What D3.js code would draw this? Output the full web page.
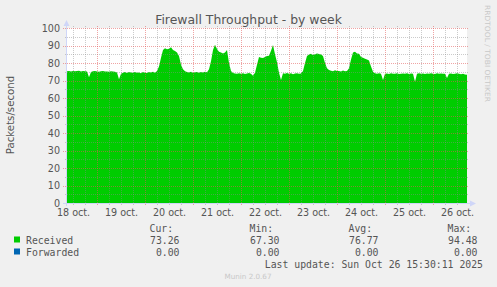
<!DOCTYPE html>
<html><head><meta charset="utf-8">
<script src="https://cdn.jsdelivr.net/npm/d3@7"></script>
<style>
body{margin:0;background:#f0f0f0;overflow:hidden;}
svg{display:block;}
</style></head><body>
<svg id="c" width="497" height="287"></svg>
<script>
// ---------- data ----------
const chartTitle = "Firewall Throughput - by week";
const yAxisTitle = "Packets/second";
const watermark = "RRDTOOL / TOBI OETIKER";
const footer = "Munin 2.0.67";
const lastUpdate = "Last update: Sun Oct 26 15:30:11 2025";

const startTime = Date.UTC(2025, 9, 18, 9, 0);   // left edge of plot
const endTime   = Date.UTC(2025, 9, 26, 17, 0);  // right edge of plot
const sampleHours = 1;                            // one value per hour

// Received packets/second, hourly from Oct 18 09:00
const received = [
  75.3,75.4,75.2,75.5,75.3,75.4,75.6,75.2,75.4,75.3,75.1,71.8,
  74.8,75.3,75.4,75.2,75.0,75.3,75.4,75.1,75.2,75.0,75.3,75.1,
  75.0,74.6,70.7,73.8,74.5,74.8,74.3,74.9,74.6,74.4,74.8,74.5,
  74.6,74.2,74.8,74.5,74.3,74.9,74.6,75.0,74.4,75.5,78.0,83.0,
  87.5,88.5,87.8,88.2,89.0,87.5,86.8,86.0,84.0,79.0,76.5,75.3,
  74.9,74.6,75.0,74.4,74.7,74.9,74.5,74.8,74.6,75.0,74.7,76.5,
  81.0,87.5,90.5,88.0,86.5,86.0,85.5,86.0,87.5,80.0,75.5,74.3,
  74.0,73.8,74.2,73.9,74.1,73.7,74.0,74.3,73.8,72.7,74.5,79.0,
  83.5,83.0,82.8,83.4,84.0,84.2,87.0,90.3,85.0,80.5,74.5,70.3,
  74.2,73.8,74.3,73.9,74.1,73.6,74.0,74.2,73.8,74.0,75.5,80.0,
  84.0,84.8,85.3,84.6,85.0,85.5,85.2,84.8,84.0,80.0,77.0,76.0,
  75.6,75.3,75.8,75.4,75.5,75.2,75.7,75.3,75.5,77.0,82.0,86.0,
  86.5,85.5,85.3,83.5,83.0,82.5,82.0,81.5,78.0,75.0,74.1,73.8,
  74.2,73.9,70.3,73.8,74.0,73.7,74.1,73.8,73.9,74.2,73.7,73.9,
  74.0,73.8,74.1,73.7,74.0,73.9,69.3,73.8,74.1,73.9,74.0,73.7,
  74.0,73.8,74.2,73.9,73.7,74.1,73.8,74.0,73.9,73.8,71.5,73.9,
  74.0,73.7,73.9,74.1,73.8,73.6,73.9,73.5,73.3
];
// Forwarded is zero all week
const forwarded = received.map(() => 0);

const yTickValues = [0, 10, 20, 30, 40, 50, 60, 70, 80, 90, 100];
const xTickDays   = [18, 19, 20, 21, 22, 23, 24, 25, 26];
const xTickLabels = ["18 oct.", "19 oct.", "20 oct.", "21 oct.", "22 oct.", "23 oct.", "24 oct.", "25 oct.", "26 oct."];

const legendNames  = ["Received", "Forwarded"];
const statHeaders  = ["Cur:", "Min:", "Avg:", "Max:"];
const receivedStats  = ["73.26", "67.30", "76.77", "94.48"];
const forwardedStats = ["0.00", "0.00", "0.00", "0.00"];

// ---------- styles ----------
const colReceived = "#00cc00";
const colForwarded = "#0066b3";
const colText = "#555555";
const colAxis = "#cfd6f8";
const colMajor = "rgba(226,90,90,0.55)";
const colMinor = "rgba(140,140,140,0.45)";
const sansFont = "'DejaVu Sans', sans-serif";
const monoFont = "'DejaVu Sans Mono', monospace";

// ---------- drawing ----------
const svg = d3.select("#c");
svg.append("rect").attr("width", 497).attr("height", 287).attr("fill", "#f0f0f0");

const x = d3.scaleUtc().domain([new Date(startTime), new Date(endTime)]).range([67, 467]);
const y = d3.scaleLinear().domain([0, 100]).range([203, 28]);

// canvas
svg.append("rect").attr("x", x.range()[0]).attr("y", y(100))
  .attr("width", x.range()[1] - x.range()[0]).attr("height", y(0) - y(100)).attr("fill", "#fff");

const recData = received.map((v, i) => ({t: new Date(startTime + i * sampleHours * 3600e3), v}));
const fwdData = forwarded.map((v, i) => ({t: new Date(startTime + i * sampleHours * 3600e3), v}));

const area = d3.area().x(d => x(d.t)).y0(y(0)).y1(d => y(d.v)).curve(d3.curveLinear);
svg.append("path").datum(recData).attr("d", area).attr("fill", colReceived);

// grid (drawn over the data, like rrdtool)
const g = svg.append("g");
const minorY = d3.range(5, 100, 10);
g.selectAll(".hmin").data(minorY).join("line")
  .attr("x1", 65).attr("x2", 469).attr("y1", d => Math.round(y(d)) + 0.5).attr("y2", d => Math.round(y(d)) + 0.5)
  .attr("stroke", colMinor).attr("stroke-dasharray", "1,1");
const sixHours = d3.utcHour.every(6).range(new Date(startTime), new Date(endTime));
g.selectAll(".vmin").data(sixHours.filter(d => d.getUTCHours() !== 0)).join("line")
  .attr("y1", 26).attr("y2", 205).attr("x1", d => Math.round(x(d)) + 0.5).attr("x2", d => Math.round(x(d)) + 0.5)
  .attr("stroke", colMinor).attr("stroke-dasharray", "1,1");
g.selectAll(".hmaj").data(yTickValues.filter(d => d > 0)).join("line")
  .attr("x1", 63).attr("x2", 469).attr("y1", d => Math.round(y(d)) + 0.5).attr("y2", d => Math.round(y(d)) + 0.5)
  .attr("stroke", colMajor).attr("stroke-dasharray", "1,1");
const days = d3.utcDay.range(new Date(startTime), new Date(endTime));
g.selectAll(".vmaj").data(days).join("line")
  .attr("y1", 26).attr("y2", 206).attr("x1", d => Math.round(x(d)) + 0.5).attr("x2", d => Math.round(x(d)) + 0.5)
  .attr("stroke", colMajor).attr("stroke-dasharray", "1,1");

// forwarded line (zero)
svg.append("path").datum(fwdData)
  .attr("d", d3.line().x(d => x(d.t)).y(d => y(d.v) + 0.5))
  .attr("fill", "none").attr("stroke", colForwarded).attr("stroke-width", 1);

// axes lines + arrows
svg.append("line").attr("x1", 66.5).attr("x2", 66.5).attr("y1", 206).attr("y2", 24).attr("stroke", colAxis);
svg.append("line").attr("x1", 63).attr("x2", 471).attr("y1", 203.5).attr("y2", 203.5).attr("stroke", colAxis);
svg.append("path").attr("d", "M63.5,26 L66.5,20 L69.5,26 Z").attr("fill", colAxis);
svg.append("path").attr("d", "M470,200.5 L476,203.5 L470,206.5 Z").attr("fill", colAxis);

// y axis labels via d3 axis
const yAxis = svg.append("g").attr("transform", "translate(66,0)")
  .call(d3.axisLeft(y).tickValues(yTickValues).tickSize(0).tickPadding(6).tickFormat(d3.format("d")));
yAxis.select(".domain").remove();
yAxis.selectAll("text").attr("font-family", sansFont).attr("font-size", 9.6).attr("fill", colText);

// x axis labels at noon
const xLabelTimes = xTickDays.map(d => new Date(Date.UTC(2025, 9, d, 12)));
const xAxis = svg.append("g").attr("transform", "translate(0,203)")
  .call(d3.axisBottom(x).tickValues(xLabelTimes).tickSize(0).tickPadding(6)
    .tickFormat((d, i) => xTickLabels[i]));
xAxis.select(".domain").remove();
xAxis.selectAll("text").attr("font-family", sansFont).attr("font-size", 9.6).attr("fill", colText);

// title
svg.append("text").attr("x", 248.5).attr("y", 24).attr("text-anchor", "middle")
  .attr("font-family", sansFont).attr("font-size", 12.4).attr("fill", colText).text(chartTitle);

// y axis title
svg.append("text").attr("transform", "translate(14,115) rotate(-90)").attr("text-anchor", "middle")
  .attr("font-family", sansFont).attr("font-size", 10.2).attr("fill", colText).text(yAxisTitle);

// watermark
svg.append("text").attr("transform", "translate(485,5) rotate(90)")
  .attr("font-family", sansFont).attr("font-size", 7.2).attr("fill", "#c8c8c8")
  .attr("textLength", 97).attr("lengthAdjust", "spacingAndGlyphs").text(watermark);

// legend
const mono = (sel) => sel.attr("font-family", monoFont).attr("font-size", 9.8).attr("fill", colText);
const colRight = [179.5, 279.5, 378.5, 477.5];
statHeaders.forEach((h, i) => {
  svg.append("text").attr("x", colRight[i] - 30).attr("y", 231.5).call(mono).text(h);
});
const rows = [
  {name: legendNames[0], color: colReceived, stats: receivedStats, y: 243.5},
  {name: legendNames[1], color: colForwarded, stats: forwardedStats, y: 255.5}
];
rows.forEach(r => {
  svg.append("rect").attr("x", 14).attr("y", r.y - 7).attr("width", 6).attr("height", 6).attr("fill", r.color);
  svg.append("text").attr("x", 26).attr("y", r.y).call(mono).text(r.name);
  r.stats.forEach((s, i) => {
    svg.append("text").attr("x", colRight[i]).attr("y", r.y).attr("text-anchor", "end").call(mono).text(s);
  });
});
svg.append("text").attr("x", 483).attr("y", 267.5).attr("text-anchor", "end").call(mono).text(lastUpdate);

svg.append("text").attr("x", 248).attr("y", 279).attr("text-anchor", "middle")
  .attr("font-family", sansFont).attr("font-size", 7.2).attr("fill", "#c8c8c8").text(footer);
</script>
</body></html>
